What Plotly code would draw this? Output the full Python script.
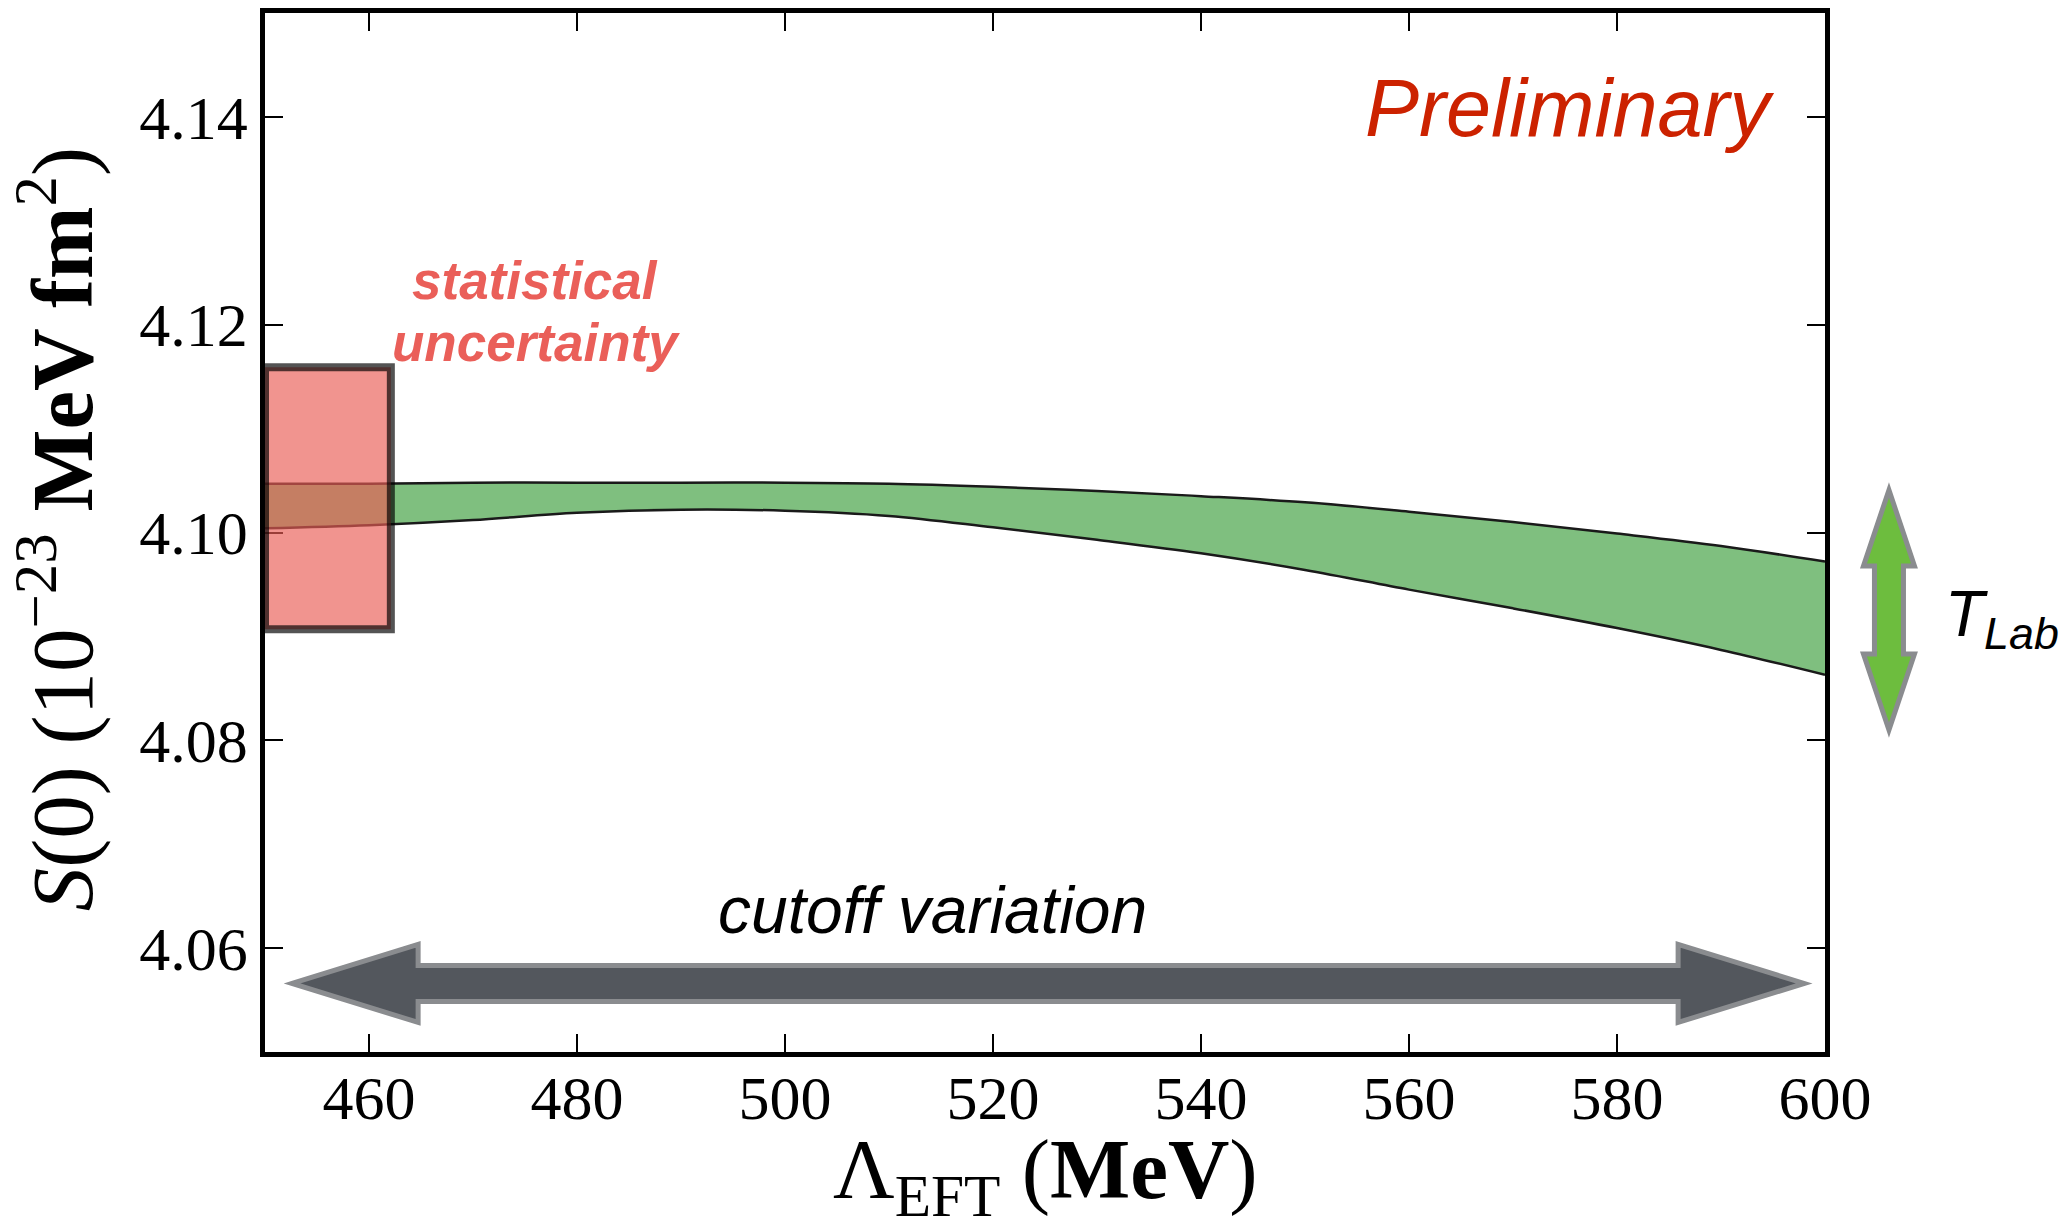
import plotly.graph_objects as go

# ---------------- data ----------------
cutoff = [450, 460, 470, 480, 490, 500, 510, 520, 530, 540, 550, 560, 570, 580, 590, 600]
s0_upper = [4.1047, 4.1047, 4.1048, 4.1048, 4.1048, 4.1048, 4.1047, 4.1044, 4.1040,
            4.1035, 4.1029, 4.1020, 4.1010, 4.0999, 4.0987, 4.0972]
s0_lower = [4.1004, 4.1007, 4.1012, 4.1019, 4.1022, 4.1021, 4.1016, 4.1005, 4.0993,
            4.0980, 4.0964, 4.0945, 4.0927, 4.0908, 4.0887, 4.0863]

stat_x = [450, 462.1]          # extent of statistical-uncertainty box
stat_center = 4.1033
stat_err = 0.0126

x_ticks = [460, 480, 500, 520, 540, 560, 580, 600]
x_ticklabels = ["460", "480", "500", "520", "540", "560", "580", "600"]
y_ticks = [4.06, 4.08, 4.10, 4.12, 4.14]
y_ticklabels = ["4.06", "4.08", "4.10", "4.12", "4.14"]
x_range = [450, 600]
y_range = [4.05, 4.15]

cutoff_arrow_y = 4.0566
cutoff_arrow_x = 525.3

x_title = "Λ<sub>EFT</sub> (<b>MeV</b>)"
y_title = "<i>S</i>(0) (10<sup>−23</sup> <b>MeV fm</b><sup>2</sup>)"

SERIF = "Liberation Serif"
SANS = "Liberation Sans"

fig = go.Figure()

fig.add_trace(go.Scatter(
    x=cutoff, y=s0_lower, mode="lines", line=dict(color="#1a1a1a", width=2.5, shape="spline"),
    showlegend=False, hoverinfo="skip"))
fig.add_trace(go.Scatter(
    x=cutoff, y=s0_upper, mode="lines", line=dict(color="#1a1a1a", width=2.5, shape="spline"),
    fill="tonexty", fillcolor="rgba(0,128,0,0.5)", showlegend=False, hoverinfo="skip"))

# statistical uncertainty box
fig.add_shape(type="rect", xref="x", yref="y",
              x0=stat_x[0], x1=stat_x[1],
              y0=stat_center - stat_err, y1=stat_center + stat_err,
              fillcolor="rgba(234,93,85,0.66)",
              line=dict(color="rgba(0,0,0,0.67)", width=8), layer="above")

# cutoff variation arrow (pixel-sized path anchored in data coords)
fig.add_shape(type="path", xref="x", yref="y",
              xsizemode="pixel", ysizemode="pixel",
              xanchor=cutoff_arrow_x, yanchor=cutoff_arrow_y,
              path="M -756,0 L -630,39 L -630,18 L 630,18 L 630,39 L 756,0 "
                   "L 630,-39 L 630,-18 L -630,-18 L -630,-39 Z",
              fillcolor="#53575d", line=dict(color="#8a8c8f", width=5), layer="above")

# T_Lab arrow (outside plot, paper coords)
fig.add_shape(type="path", xref="paper", yref="paper",
              xsizemode="pixel", ysizemode="pixel",
              xanchor=1.041, yanchor=0.4254,
              path="M 0,120 L 25.5,44 L 14.5,44 L 14.5,-44 L 25.5,-44 L 0,-120 "
                   "L -25.5,-44 L -14.5,-44 L -14.5,44 L -25.5,44 Z",
              fillcolor="#6dbd3e", line=dict(color="#8a8c8f", width=5), layer="above")

annotations = [
    dict(text="<i>Preliminary</i>", x=0.9692, y=0.909, xref="paper", yref="paper",
         xanchor="right", yanchor="middle", showarrow=False,
         font=dict(family=SANS, size=81, color="#cc2200")),
    dict(text="<b><i>statistical</i></b>", x=0.1731, y=0.7424, xref="paper", yref="paper",
         xanchor="center", yanchor="middle", showarrow=False,
         font=dict(family=SANS, size=53, color="#ea5f59")),
    dict(text="<b><i>uncertainty</i></b>", x=0.1737, y=0.6824, xref="paper", yref="paper",
         xanchor="center", yanchor="middle", showarrow=False,
         font=dict(family=SANS, size=53, color="#ea5f59")),
    dict(text="<i>cutoff variation</i>", x=0.4282, y=0.1369, xref="paper", yref="paper",
         xanchor="center", yanchor="middle", showarrow=False,
         font=dict(family=SANS, size=66, color="black")),
    dict(text="<i>T<sub>Lab</sub></i>", x=1.0756, y=0.4177, xref="paper", yref="paper",
         xanchor="left", yanchor="middle", showarrow=False,
         font=dict(family=SANS, size=64, color="black")),
    # axis titles
    dict(text=x_title, x=0.5, y=-0.1188, xref="paper", yref="paper",
         xanchor="center", yanchor="middle", showarrow=False,
         font=dict(family=SERIF, size=85, color="black")),
    dict(text=y_title, x=-0.1334, y=0.503, xref="paper", yref="paper", textangle=-90,
         xanchor="center", yanchor="middle", showarrow=False,
         font=dict(family=SERIF, size=87, color="black")),
]

axis_common = dict(
    showline=True, linewidth=4.5, linecolor="black", mirror="ticks",
    ticks="inside", ticklen=18, tickwidth=2, tickcolor="black",
    showgrid=False, zeroline=False, automargin=False,
    tickfont=dict(family=SERIF, size=62, color="black"),
)

fig.update_layout(
    width=2063, height=1219, autosize=False,
    margin=dict(l=265, r=238, t=13, b=167),
    paper_bgcolor="white", plot_bgcolor="white",
    xaxis=dict(range=x_range, tickmode="array", tickvals=x_ticks, ticktext=x_ticklabels,
               ticklabelstandoff=-12, **axis_common),
    yaxis=dict(range=y_range, tickmode="array", tickvals=y_ticks, ticktext=y_ticklabels,
               **axis_common),
    annotations=annotations,
)

fig.write_html("out.html")
